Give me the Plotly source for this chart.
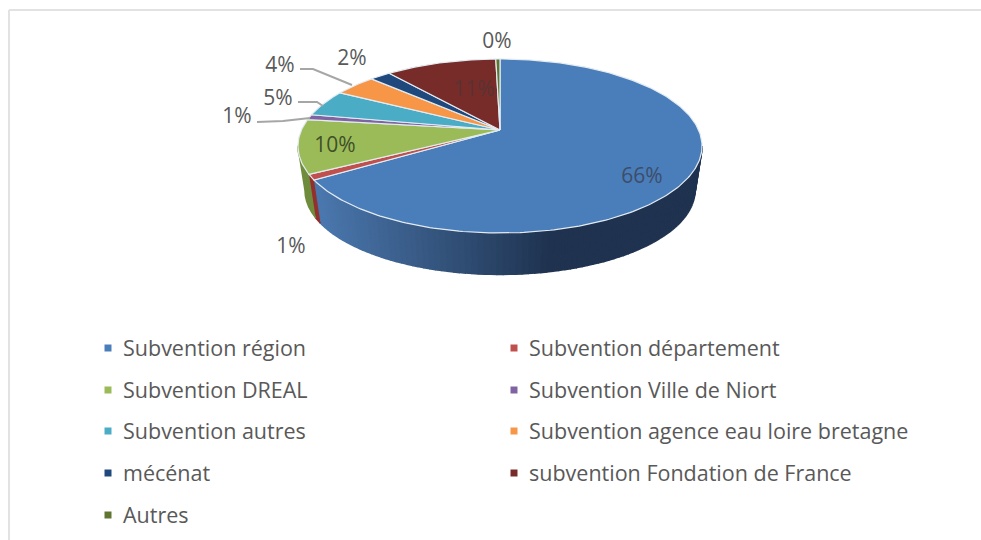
import numpy as np
import plotly.graph_objects as go

categories = ["Subvention région", "Subvention département", "Subvention DREAL",
              "Subvention Ville de Niort", "Subvention autres",
              "Subvention agence eau loire bretagne", "mécénat",
              "subvention Fondation de France", "Autres"]
values = [66.0, 1.0, 10.0, 1.0, 5.0, 4.0, 2.0, 10.6, 0.4]
labels = ["66%", "1%", "10%", "1%", "5%", "4%", "2%", "11%", "0%"]
colors = ["#4a7ebb", "#c0504d", "#9bbb59", "#8064a2", "#4bacc6",
          "#f79646", "#1f497d", "#772c2a", "#5f7530"]
side_colors = {1: "#93302e", 2: "#6f8c3c"}
label_pos = [(642, 175), (291, 245), (335, 144), (237, 115), (278, 97),
             (280, 64), (352, 57), (474, 88), (497, 40)]
label_colors = ["#3d4d69", "#595959", "#3f4f2a", "#595959", "#595959",
                "#595959", "#595959", "#5b3232", "#595959"]
leaders = {3: [(257, 122), (283, 121), (310, 118)],
           4: [(298, 102), (317, 102), (323, 106)],
           5: [(300, 69), (313, 69), (352, 85)]}

# projective view of the disc
CX, CY, RX = 500.0, 130.0, 198.6
A, C = -60.15, 0.1839
DEPTH_CY, DEPTH_S = 175.0, 0.965
TEXT_DY = 3


def top(t):
    u, v = np.sin(t), np.cos(t)
    d = 1 + C * v
    return CX + RX * u / d, (A * v + CY) / d


def bottom(t):
    x, y = top(t)
    return CX + DEPTH_S * (x - CX), DEPTH_CY + DEPTH_S * (y - CY)


def mix(c1, c2, f):
    a = [int(c1[i:i + 2], 16) for i in (1, 3, 5)]
    b = [int(c2[i:i + 2], 16) for i in (1, 3, 5)]
    return "rgb(" + ",".join(str(round(p + (q - p) * f)) for p, q in zip(a, b)) + ")"


fig = go.Figure()
frac = np.cumsum([0] + values) / sum(values) * 2 * np.pi
t_r = np.arccos(-C)
t_l = 2 * np.pi - t_r


def side_strip(t0, t1, col):
    ts = np.linspace(t0, t1, 6)
    xa, ya = top(ts)
    xb, yb = bottom(ts)
    fig.add_trace(go.Scatter(x=np.r_[xa, xb[::-1]], y=np.r_[ya, yb[::-1]], mode="lines",
                             fill="toself", fillcolor=col, line=dict(color=col, width=1.6),
                             hoverinfo="skip", showlegend=False))


# extruded side, blue slice with horizontal shading
end0 = min(frac[1], t_l)
edges = np.linspace(t_r, end0, 90)[::-1]
for a, b in zip(edges[1:], edges[:-1]):
    xm = top((a + b) / 2)[0]
    f = np.clip((xm - 320) / 230, 0, 1)
    side_strip(a, b, mix("#4a77ad", "#1f3350", f))
for i in (1, 2):
    a, b = frac[i], min(frac[i + 1], t_l)
    side_strip(a, b, side_colors[i])

# top slices
for i, (cat, col) in enumerate(zip(categories, colors)):
    ts = np.linspace(frac[i], frac[i + 1], max(int(values[i] * 4), 4))
    x, y = top(ts)
    fig.add_trace(go.Scatter(x=np.r_[CX, x, CX], y=np.r_[CY, y, CY], mode="lines", fill="toself",
                             fillcolor=col, line=dict(color="#e4ecf2", width=1.2),
                             name=cat, text=labels[i], hoverinfo="name+text", showlegend=False))

# leader lines
for pts in leaders.values():
    fig.add_trace(go.Scatter(x=[p[0] for p in pts], y=[p[1] for p in pts], mode="lines",
                             line=dict(color="#a6a6a6", width=2), hoverinfo="skip", showlegend=False))

# data labels
fig.add_trace(go.Scatter(x=[p[0] for p in label_pos], y=[p[1] + TEXT_DY for p in label_pos], mode="text",
                         text=labels, textposition="middle center",
                         textfont=dict(family="Open Sans", size=21, color=label_colors),
                         hoverinfo="skip", showlegend=False))

# legend in two columns
col_x = [108, 514]
row_y = [348, 390, 431, 473, 515]
lx = [col_x[i % 2] for i in range(len(categories))]
ly = [row_y[i // 2] for i in range(len(categories))]
fig.add_trace(go.Scatter(x=lx, y=ly, mode="markers",
                         marker=dict(symbol="square", size=7, color=colors),
                         hoverinfo="skip", showlegend=False))
fig.add_trace(go.Scatter(x=[v + 15 for v in lx], y=[v + TEXT_DY for v in ly], mode="text", text=categories,
                         textposition="middle right",
                         textfont=dict(family="Open Sans", size=21.5, color="#595959"),
                         hoverinfo="skip", showlegend=False))

# outer frame
fig.add_shape(type="line", x0=9, y0=10, x1=981, y1=10, line=dict(color="#e2e2e2", width=2))
fig.add_shape(type="line", x0=9, y0=10, x1=9, y1=540, line=dict(color="#e2e2e2", width=2))

fig.update_layout(width=981, height=540, margin=dict(l=0, r=0, t=0, b=0),
                  paper_bgcolor="white", plot_bgcolor="white", showlegend=False,
                  xaxis=dict(range=[0, 981], visible=False, fixedrange=True),
                  yaxis=dict(range=[540, 0], visible=False, fixedrange=True))
fig.write_html("out.html", config={"displayModeBar": False},
               post_script="document.body.style.margin='0';document.body.style.overflow='hidden';")
